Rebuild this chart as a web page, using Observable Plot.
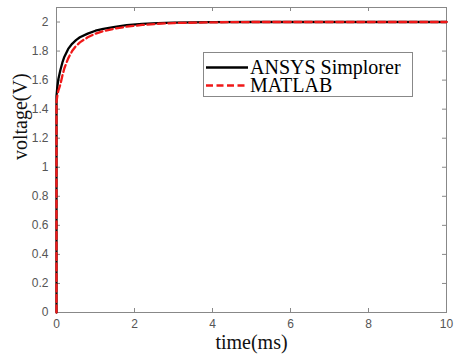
<!DOCTYPE html>
<html>
<head>
<meta charset="utf-8">
<script src="https://cdn.jsdelivr.net/npm/d3@7"></script>
<script src="https://cdn.jsdelivr.net/npm/@observablehq/plot@0.6"></script>
<style>
  html, body { margin: 0; padding: 0; background: #fff; }
  #wrap { position: relative; width: 459px; height: 359px; }
  #legend {
    position: absolute; left: 203px; top: 52px; width: 208px; height: 43px;
    border: 1px solid #888; background: #fff;
    font-family: "Liberation Serif", "Times New Roman", serif; font-size: 20px; color: #000;
  }
  #legend .row { position: absolute; left: 2px; height: 17px; display: flex; align-items: center; }
  #legend svg { display: block; }
  #legend span { margin-left: 2px; line-height: 17px; white-space: nowrap; }
</style>
</head>
<body>
<div id="wrap"></div>
<script>
// Data
const time = [0, 0, 0.02, 0.05, 0.1, 0.15, 0.2, 0.3, 0.4, 0.5, 0.6, 0.8, 1.0, 1.2, 1.5, 1.8, 2.2, 2.6, 3, 4, 5, 10];
const ansysVoltage = [0, 1.49, 1.55, 1.61, 1.67, 1.72, 1.76, 1.815, 1.85, 1.875, 1.895, 1.92, 1.94, 1.953, 1.967, 1.978, 1.987, 1.993, 1.996, 1.999, 2.0, 2.0];
const matlabVoltage = [0, 1.45, 1.49, 1.53, 1.57, 1.63, 1.68, 1.75, 1.80, 1.835, 1.86, 1.895, 1.92, 1.937, 1.955, 1.968, 1.98, 1.988, 1.993, 1.998, 2.0, 2.0];
const seriesNames = ["ANSYS Simplorer", "MATLAB"];
const seriesColors = ["#000000", "#f01818"];
const xTicks = [0, 2, 4, 6, 8, 10];
const yTicks = [0, 0.2, 0.4, 0.6, 0.8, 1, 1.2, 1.4, 1.6, 1.8, 2];
const xTitle = "time(ms)";
const yTitle = "voltage(V)";

const xDomain = [0, 10];
const yDomain = [0, 2.1];

const ansys = time.map((t, i) => ({t, v: ansysVoltage[i]}));
const matlab = time.map((t, i) => ({t, v: matlabVoltage[i]}));

const tickFont = {fontFamily: "Liberation Sans, Arial, sans-serif", fontSize: 12, fill: "#555"};
const dash = "7,3.5";

// inward tick length expressed in data units of each scale (about 4 px)
const yTickLen = (yDomain[1] - yDomain[0]) * 4 / 305;
const xTickLen = (xDomain[1] - xDomain[0]) * 4 / 390;

const chart = Plot.plot({
  width: 459,
  height: 359,
  marginLeft: 56,
  marginRight: 13,
  marginTop: 7,
  marginBottom: 47,
  style: {background: "#fff", overflow: "visible"},
  x: {domain: xDomain},
  y: {domain: yDomain},
  marks: [
    Plot.axisX(xTicks, {anchor: "bottom", tickSize: 0, tickPadding: 7, label: null, ...tickFont, tickFormat: d => String(d)}),
    Plot.axisY(yTicks, {anchor: "left", tickSize: 0, tickPadding: 8, label: null, ...tickFont, tickFormat: d => String(d)}),
    Plot.ruleX(xTicks, {x: d => d, y1: yDomain[0], y2: yDomain[0] + yTickLen, stroke: "#888"}),
    Plot.ruleX(xTicks, {x: d => d, y1: yDomain[1], y2: yDomain[1] - yTickLen, stroke: "#888"}),
    Plot.ruleY(yTicks, {y: d => d, x1: xDomain[0], x2: xDomain[0] + xTickLen, stroke: "#888"}),
    Plot.ruleY(yTicks, {y: d => d, x1: xDomain[1], x2: xDomain[1] - xTickLen, stroke: "#888"}),
    Plot.frame({stroke: "#888", strokeWidth: 1}),
    Plot.line(ansys, {x: "t", y: "v", stroke: seriesColors[0], strokeWidth: 2.3}),
    Plot.line(matlab, {x: "t", y: "v", stroke: seriesColors[1], strokeWidth: 2.3, strokeDasharray: dash}),
    Plot.text([xTitle], {frameAnchor: "bottom", dy: 36, fontFamily: "Liberation Serif, Times New Roman, serif", fontSize: 20, fill: "#111"}),
    Plot.text([yTitle], {frameAnchor: "left", dx: -36, rotate: -90, fontFamily: "Liberation Serif, Times New Roman, serif", fontSize: 20, fill: "#111"})
  ]
});

const wrap = document.getElementById("wrap");
wrap.appendChild(chart);

// Legend
const legend = document.createElement("div");
legend.id = "legend";
seriesNames.forEach((name, i) => {
  const row = document.createElement("div");
  row.className = "row";
  row.style.top = (i === 0 ? 6 : 24) + "px";
  const sw = d3.create("svg").attr("width", 42).attr("height", 17);
  sw.append("line").attr("x1", 0).attr("x2", 42).attr("y1", 8.5).attr("y2", 8.5)
    .attr("stroke", seriesColors[i]).attr("stroke-width", 2.3)
    .attr("stroke-dasharray", i === 1 ? dash : null);
  row.appendChild(sw.node());
  const sp = document.createElement("span");
  sp.textContent = name;
  row.appendChild(sp);
  legend.appendChild(row);
});
wrap.appendChild(legend);
</script>
</body>
</html>
